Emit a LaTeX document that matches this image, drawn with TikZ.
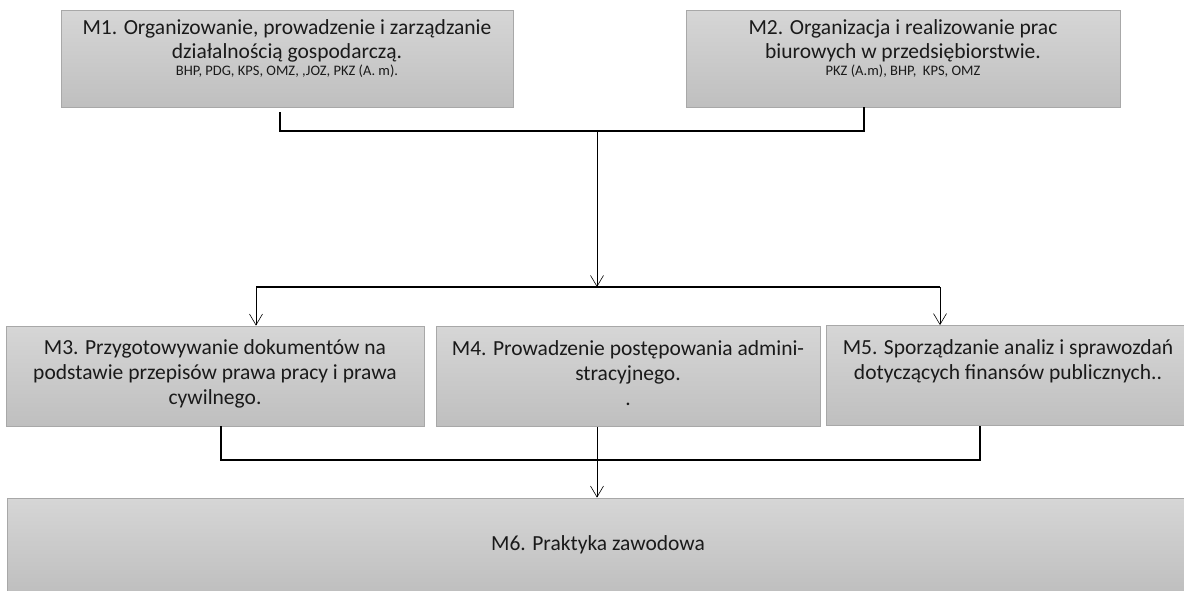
\documentclass[tikz,border=0pt]{standalone}
\usepackage{fontspec}
\setmainfont{Carlito}
\usetikzlibrary{arrows.meta}
\definecolor{boxtop}{HTML}{D6D6D6}
\definecolor{boxbot}{HTML}{BFBFBF}
\definecolor{boxedge}{HTML}{A8A8A8}
\definecolor{txt}{HTML}{1A1A1A}
\tikzset{
  box/.style={draw=boxedge, line width=0.8pt, top color=boxtop, bottom color=boxbot,
    inner sep=4pt, text=txt},
  bracket/.style={draw=black, line width=1.8pt},
  arr/.style={draw=black, line width=0.6pt, -{Straight Barb[length=11pt,width=13pt,line width=0.6pt]}},
}
\newcommand{\topbox}[3]{\parbox[c][#1][t]{#2}{\centering #3}}
\newcommand{\bigf}{\fontsize{21.5}{24}\selectfont}
\newcommand{\midf}{\fontsize{21.5}{25}\selectfont}
\newcommand{\smallf}{\fontsize{14.5}{16}\selectfont}
\begin{document}
\begin{tikzpicture}[x=1pt,y=-1pt]
\useasboundingbox (0,0) rectangle (1184,590);
% top row
\node[box, minimum width=450pt, minimum height=97pt] (m1) at (287,58.5)
  {\topbox{89pt}{444pt}{\vspace*{6pt}{\bigf M1. Organizowanie, prowadzenie i zarządzanie\\ działalnością gospodarczą.\par}\vspace{1pt}{\smallf BHP, PDG, KPS, OMZ, ,JOZ, PKZ (A. m).\par}}};
\node[box, minimum width=432pt, minimum height=97pt] (m2) at (903,58.5)
  {\topbox{89pt}{426pt}{\vspace*{6pt}{\bigf M2. Organizacja i realizowanie prac\\ biurowych w przedsiębiorstwie.\par}\vspace{1pt}{\smallf PKZ (A.m), BHP,\ \ KPS, OMZ\par}}};
% middle row
\node[box, minimum width=416pt, minimum height=100pt] (m3) at (215,376)
  {\topbox{92pt}{410pt}{\vspace*{10pt}{\midf M3. Przygotowywanie dokumentów na\\ podstawie przepisów prawa pracy i prawa\\ cywilnego.\par}}};
\node[box, minimum width=382pt, minimum height=100pt] (m4) at (628,376.5)
  {\topbox{92pt}{376pt}{\vspace*{10pt}{\midf M4. Prowadzenie postępowania admini-\\ stracyjnego.\\ .\par}}};
\node[box, minimum width=362pt, minimum height=100pt] (m5) at (1008,375.5)
  {\topbox{92pt}{356pt}{\vspace*{10pt}{\midf M5. Sporządzanie analiz i sprawozdań\\ dotyczących finansów publicznych..\par}}};
% bottom
\node[box, minimum width=1182pt, minimum height=94pt, font=\fontsize{21.5}{24}\selectfont] (m6) at (598,545) {M6. Praktyka zawodowa};
% junctions
\coordinate (j1) at (597,131);
\coordinate (j2) at (597,287);
\coordinate (l2) at (256,287);
\coordinate (r2) at (940,287);
\coordinate (j3) at (597,460);
% connectors
\draw[bracket] ([xshift=-7pt,yshift=-5pt]m1.south) |- (j1) -| ([xshift=-39pt]m2.south);
\draw[arr] (j1) -- (j2);
\draw[bracket] (l2) -- (r2);
\draw[arr] (l2) -- (l2 |- m3.north);
\draw[arr] (r2) -- (r2 |- m5.north);
\draw[bracket] ([xshift=6pt]m3.south) |- (j3) -| ([xshift=-28pt]m5.south);
\draw[arr] (m4.south -| j3) -- (j3 |- m6.north);
\end{tikzpicture}
\end{document}
